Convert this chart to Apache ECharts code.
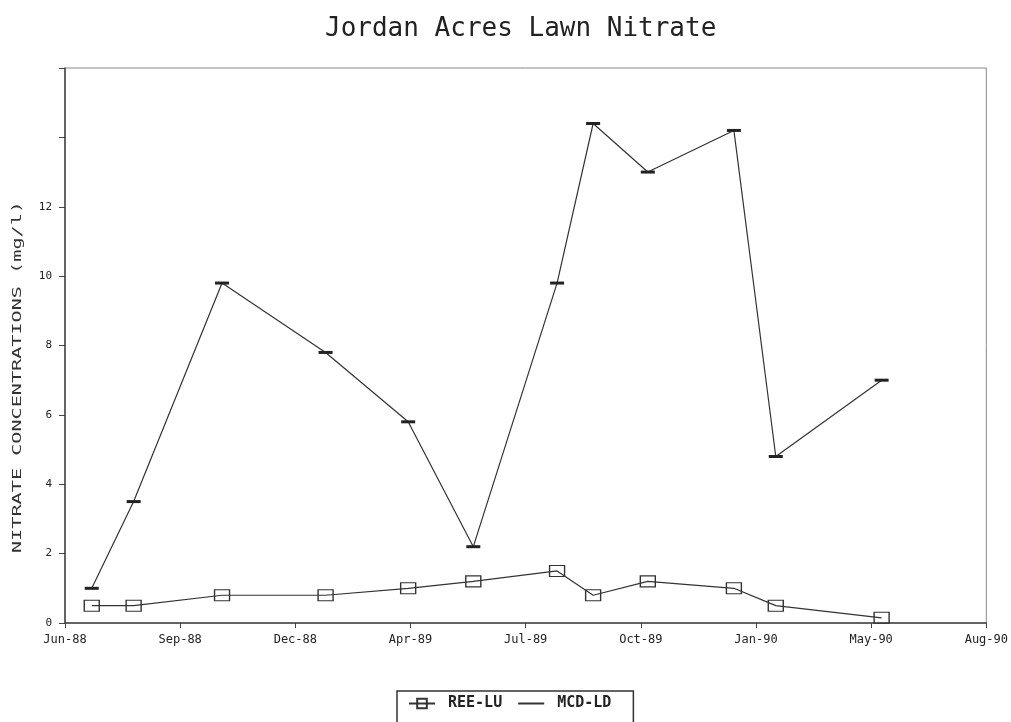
<!DOCTYPE html>
<html>
<head>
<meta charset="utf-8">
<script src="https://cdn.jsdelivr.net/npm/echarts@6/dist/echarts.min.js"></script>
<style>
html,body{margin:0;padding:0;background:#fff;}
#chart{width:1011px;height:722px;}
</style>
</head>
<body>
<div id="chart"></div>
<script>
// ---- data ----
const axisStartDate = '1988-06-15';
const tickStepDays = 99;
const xTickLabels = ['Jun-88','Sep-88','Dec-88','Apr-89','Jul-89','Oct-89','Jan-90','May-90','Aug-90'];
const sampleDates = ['1988-07-08','1988-08-13','1988-10-28','1989-01-25','1989-04-06','1989-06-01',
                     '1989-08-12','1989-09-12','1989-10-29','1990-01-11','1990-02-16','1990-05-18'];
const reeLU = [0.5, 0.5, 0.8, 0.8, 1.0, 1.2, 1.5, 0.8, 1.2, 1.0, 0.5, 0.15];
const mcdLD = [1.0, 3.5, 9.8, 7.8, 5.8, 2.2, 9.8, 14.4, 13.0, 14.2, 4.8, 7.0];
const yTickMaxLabel = 12;
const titleText = 'Jordan Acres Lawn Nitrate';
const yAxisTitle = 'NITRATE CONCENTRATIONS (mg/l)';

function dayOffset(s){
  const a = s.split('-').map(Number), b = axisStartDate.split('-').map(Number);
  return (Date.UTC(a[0],a[1]-1,a[2]) - Date.UTC(b[0],b[1]-1,b[2]))/86400000;
}
const xs = sampleDates.map(dayOffset);
const pair = (vals) => vals.map((v,i)=>[xs[i], v]);

const chart = echarts.init(document.getElementById('chart'));
const mono = 'DejaVu Sans Mono';
chart.setOption({
  animation:false,
  backgroundColor:'#fff',
  title:{
    text:titleText,
    left:320, top:11,
    textStyle:{fontFamily:mono, fontSize:26, fontWeight:'normal', color:'#222'}
  },
  graphic:[{
    type:'text',
    x:18, y:377,
    rotation:Math.PI/2,
    scaleX:1.55,
    style:{text:yAxisTitle, font:'13px "DejaVu Sans Mono"', fill:'#333',
           align:'center', verticalAlign:'middle'}
  }],
  legend:{
    left:397, top:691,
    padding:[5,22,14,11],
    borderColor:'#333', borderWidth:1.5,
    itemWidth:26, itemHeight:12, itemGap:15,
    textStyle:{fontFamily:mono, fontSize:15, fontWeight:'bold', color:'#222', padding:[0,0,0,8]},
    data:[
      {name:'REE-LU'},
      {name:'MCD-LD', itemStyle:{opacity:0}}
    ]
  },
  grid:{left:65, right:24, top:68, bottom:99, show:true, borderColor:'#888', borderWidth:1},
  xAxis:{
    type:'value', min:0, max:tickStepDays*(xTickLabels.length-1), interval:tickStepDays,
    axisLine:{lineStyle:{color:'#444', width:1.5}},
    axisTick:{show:true, length:5, lineStyle:{color:'#444'}},
    splitLine:{show:false},
    axisLabel:{
      fontFamily:mono, fontSize:12, color:'#222', margin:11,
      showMinLabel:true, showMaxLabel:true,
      formatter:(v)=> xTickLabels[Math.round(v/tickStepDays)] || ''
    }
  },
  yAxis:{
    type:'value', min:0, max:16, interval:2,
    axisLine:{show:true, lineStyle:{color:'#444', width:1.5}},
    axisTick:{show:true, length:6, lineStyle:{color:'#444'}},
    splitLine:{show:false},
    axisLabel:{
      fontFamily:mono, fontSize:11, color:'#222', margin:13,
      formatter:(v)=> v <= yTickMaxLabel ? String(v) : ''
    }
  },
  series:[
    {
      name:'REE-LU', type:'line', data:pair(reeLU),
      symbol:'rect', symbolSize:[15,11],
      itemStyle:{color:'rgba(255,255,255,0)', borderColor:'#333', borderWidth:1.2},
      lineStyle:{color:'#333', width:1.2}
    },
    {
      name:'MCD-LD', type:'line', data:pair(mcdLD),
      symbol:'rect', symbolSize:[14,3],
      itemStyle:{color:'#222'},
      lineStyle:{color:'#333', width:1.2}
    }
  ]
});
</script>
</body>
</html>
